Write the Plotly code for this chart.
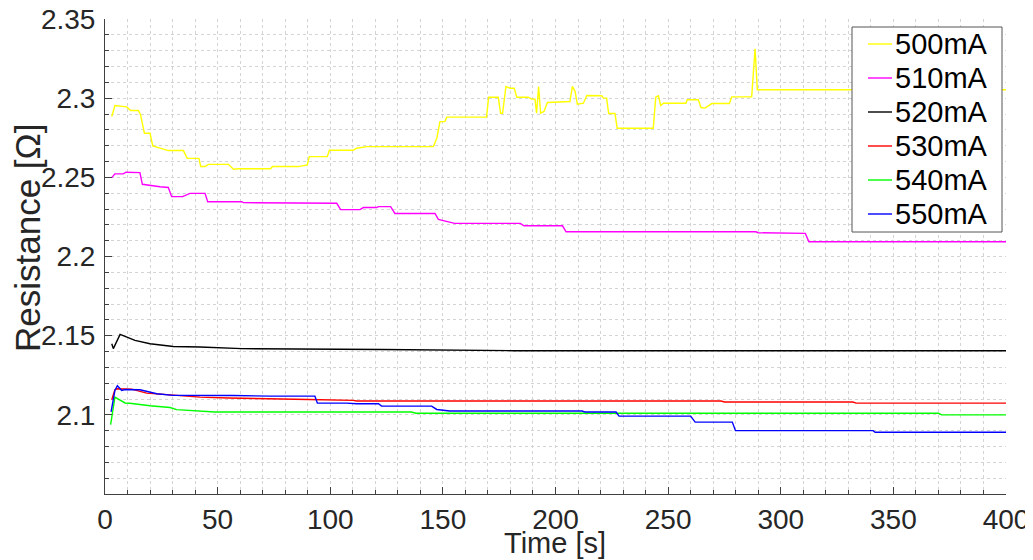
import plotly.graph_objects as go

# ---------------- data ----------------
series_names = ["500mA", "510mA", "520mA", "530mA", "540mA", "550mA"]
series_colors = ["#ffff00", "#ff00ff", "#000000", "#ff0000", "#00ff00", "#0000ff"]

t_500 = [3, 4.4, 9.6, 11.4, 14.8, 15.8, 17.5, 20, 21.2, 24.4, 28.1, 34.8, 36.5, 41.7, 42.5,
         44.4, 45.9, 54.8, 57, 59.2, 73.5, 74.4, 85.8, 89.8, 90.7, 98.7, 99.6, 110.2, 111.7, 116.2,
         145.8, 147.3, 148.7, 150.9, 151.7, 169.4, 170.3, 174.6, 175.6, 176.5, 178, 179.8, 181.7,
         182.8, 187.9, 189.4, 190.9, 191.6, 192.5, 193.4, 194.9, 196.4, 206.4, 207.5, 208.7, 209.7,
         212.4, 213.9, 220.5, 221.3, 222.7, 223.6, 226.4, 227.4, 243.4, 244.5, 245.7, 246.7, 247.9,
         257.9, 258.5, 263.4, 264.6, 266.4, 269.4, 277.2, 278.2, 287.1, 288.6, 289.6, 400]
r_500 = [2.2884, 2.2954, 2.2945, 2.2922, 2.2922, 2.2895, 2.2778, 2.2778, 2.2698, 2.2684, 2.2669,
         2.2669, 2.2620, 2.2620, 2.2568, 2.2568, 2.2582, 2.2582, 2.2551, 2.2554, 2.2554, 2.2568,
         2.2568, 2.2578, 2.2631, 2.2631, 2.2671, 2.2671, 2.2684, 2.2694, 2.2694, 2.2747, 2.2852,
         2.2852, 2.2880, 2.2880, 2.3006, 2.3006, 2.2905, 2.2905, 2.3074, 2.3063, 2.3063, 2.3006,
         2.3006, 2.2994, 2.2994, 2.2905, 2.3074, 2.2905, 2.2916, 2.2973, 2.2979, 2.3074, 2.3042,
         2.2962, 2.2968, 2.3017, 2.3015, 2.3000, 2.3000, 2.2903, 2.2903, 2.2810, 2.2810, 2.3006,
         2.3015, 2.2954, 2.2968, 2.2968, 2.2990, 2.2990, 2.2941, 2.2937, 2.2966, 2.2966, 2.3008,
         2.3008, 2.3312, 2.3053, 2.3053]

t_510 = [3, 4.4, 8.1, 9.3, 15.5, 16.6, 24.4, 28.1, 29.6, 34.5, 37.7, 44.4, 45.6, 60.7, 61.4,
         102.9, 104.6, 113.2, 114.7, 120.6, 121.4, 126.8, 128.7, 146.5, 148.0, 155.2, 184.4, 186.0,
         203.1, 204.7, 289.0, 289.9, 310.9, 312.5, 400]
r_510 = [2.2498, 2.2522, 2.2522, 2.2532, 2.2530, 2.2456, 2.2441, 2.2436, 2.2378, 2.2378, 2.2399,
         2.2399, 2.2346, 2.2346, 2.2340, 2.2336, 2.2296, 2.2296, 2.2309, 2.2309, 2.2315, 2.2315,
         2.2272, 2.2272, 2.2234, 2.2209, 2.2209, 2.2194, 2.2194, 2.2156, 2.2156, 2.2150, 2.2146,
         2.2093, 2.2093]

t_520 = [3, 3.7, 6.7, 9.6, 13.3, 20, 30.3, 42.2, 59.2, 60.7, 122.8, 148.1, 181.6, 400]
r_520 = [2.1449, 2.1418, 2.1508, 2.1491, 2.1470, 2.1449, 2.1432, 2.1428, 2.1422, 2.1418, 2.1413,
         2.1410, 2.1405, 2.1405]

t_530 = [3, 4.4, 5.2, 7.4, 11.8, 18.5, 30.3, 42.2, 54.8, 68.8, 90.3, 110.2, 111.7, 273.5, 275,
         332, 333.5, 400]
r_530 = [2.1095, 2.1158, 2.1165, 2.1165, 2.1162, 2.1137, 2.1123, 2.1112, 2.1106, 2.1101, 2.1097,
         2.1091, 2.1087, 2.1087, 2.1081, 2.1081, 2.1074, 2.1074]

t_540 = [2.5, 4.4, 8.9, 11, 20, 28.9, 31.8, 40.7, 48.8, 136, 138, 370, 371.5, 400]
r_540 = [2.0938, 2.1112, 2.1075, 2.1073, 2.1057, 2.1046, 2.1033, 2.1024, 2.1018, 2.1018, 2.1010,
         2.1010, 2.1000, 2.1000]

t_550 = [2.7, 4.4, 5.5, 7.4, 8.9, 15.5, 23, 30.3, 57, 73.2, 93.2, 94.3, 107.3, 111.7, 121.4, 122.8,
         145, 147.3, 153, 211.8, 213, 226.9, 228.2, 260, 262, 278.5, 279.9, 341, 341.9, 400]
r_550 = [2.1018, 2.1154, 2.1184, 2.1154, 2.1160, 2.1158, 2.1133, 2.1123, 2.1122, 2.1118, 2.1118,
         2.1074, 2.1074, 2.1070, 2.1070, 2.1055, 2.1055, 2.1034, 2.1024, 2.1024, 2.1018, 2.1018,
         2.0992, 2.0992, 2.0954, 2.0954, 2.0900, 2.0900, 2.0890, 2.0890]

y_tick_vals = [2.1, 2.15, 2.2, 2.25, 2.3, 2.35]
y_tick_text = ["2.1", "2.15", "2.2", "2.25", "2.3", "2.35"]
x_tick_vals = [0, 50, 100, 150, 200, 250, 300, 350, 400]

# ---------------- figure ----------------
all_t = [t_500, t_510, t_520, t_530, t_540, t_550]
all_r = [r_500, r_510, r_520, r_530, r_540, r_550]

OFF = 8  # the page body adds an 8px margin around the figure
W, H = 1033 - OFF, 560 - OFF
# plot area in window pixels: x 105..1006, y 19..494
ML, MT = 105 - OFF, 19 - OFF
MR = W - (1006 - OFF)
MB = H - (494 - OFF)
PW, PH = W - ML - MR, H - MT - MB

FONT = "Liberation Sans, Arial, sans-serif"
TXT = "#262626"
GRID = "#d4d4d4"
AX = "#404040"


def px_to_paper(px, py):
    """window pixel -> paper coordinates"""
    return (px - OFF - ML) / PW, (H - MB - (py - OFF)) / PH


fig = go.Figure()
for name, color, t, r in zip(series_names, series_colors, all_t, all_r):
    fig.add_trace(go.Scatter(x=t, y=r, mode="lines", name=name,
                             line=dict(color=color, width=1.4)))

fig.update_layout(
    width=W, height=H,
    margin=dict(l=ML, r=MR, t=MT, b=MB, autoexpand=False),
    paper_bgcolor="white", plot_bgcolor="white",
    font=dict(family=FONT, size=28, color=TXT),
    showlegend=False,
)

fig.update_xaxes(
    range=[0, 400], tickvals=x_tick_vals, ticks="inside", ticklen=7, tickcolor=AX,
    showline=True, linecolor=AX, linewidth=1, mirror=False, zeroline=False, automargin=False,
    showgrid=True, gridcolor=GRID, griddash="dot", gridwidth=1, ticklabeloverflow="allow",
    minor=dict(dtick=10, tick0=0, ticks="inside", ticklen=4, tickcolor=AX,
               showgrid=True, gridcolor=GRID, griddash="dot", gridwidth=1),
    tickfont=dict(family=FONT, size=28, color=TXT),
)
fig.update_yaxes(
    range=[2.05, 2.35], tickvals=y_tick_vals, ticktext=y_tick_text, ticks="inside", ticklen=7,
    tickcolor=AX, showline=True, linecolor=AX, linewidth=1, mirror=False, automargin=False,
    zeroline=False, showgrid=True, gridcolor=GRID, griddash="dot", gridwidth=1,
    ticklabeloverflow="allow",
    minor=dict(dtick=0.01, tick0=2.05, ticks="inside", ticklen=4, tickcolor=AX,
               showgrid=True, gridcolor=GRID, griddash="dot", gridwidth=1),
    tickfont=dict(family=FONT, size=28, color=TXT), ticklabelstandoff=3,
)

# axis titles
fig.add_annotation(text="Time [s]", xref="paper", yref="paper", x=px_to_paper(555, 0)[0],
                   y=px_to_paper(0, 543)[1], xanchor="center", yanchor="middle", showarrow=False,
                   font=dict(family=FONT, size=29, color=TXT))
fig.add_annotation(text="Resistance [Ω]", xref="paper", yref="paper", x=px_to_paper(27, 0)[0],
                   y=px_to_paper(0, 238)[1], xanchor="center", yanchor="middle", textangle=-90,
                   showarrow=False, font=dict(family=FONT, size=35, color=TXT))

# legend box (drawn as shapes + text so that row spacing matches the reference)
lx0, ly0 = px_to_paper(852, 27)
lx1, ly1 = px_to_paper(1002, 232)
fig.add_shape(type="rect", xref="paper", yref="paper", x0=lx0, y0=ly1, x1=lx1, y1=ly0,
              line=dict(color="#555555", width=1), fillcolor="white", layer="above")
for i, (name, color) in enumerate(zip(series_names, series_colors)):
    row_y = 44 + 34 * i
    sx0, sy = px_to_paper(868, row_y)
    sx1, _ = px_to_paper(892, row_y)
    fig.add_shape(type="line", xref="paper", yref="paper", x0=sx0, y0=sy, x1=sx1, y1=sy,
                  line=dict(color=color, width=1.4), layer="above")
    tx, ty = px_to_paper(893, row_y)
    fig.add_annotation(text=name, xref="paper", yref="paper", x=tx, y=ty, xanchor="left",
                       yanchor="middle", showarrow=False,
                       font=dict(family=FONT, size=29, color="#000000"))

fig.write_html("out.html")
